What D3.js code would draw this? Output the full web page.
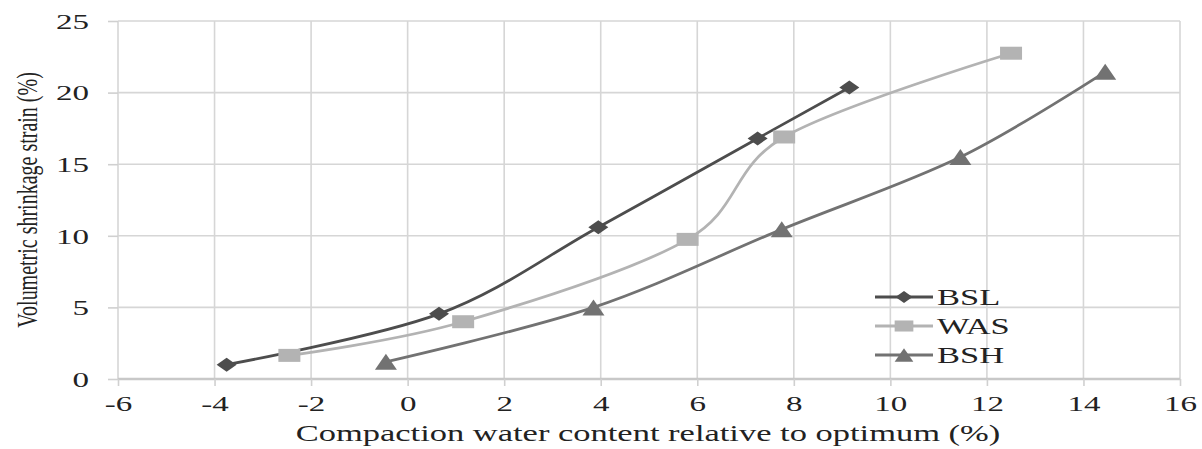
<!DOCTYPE html>
<html>
<head>
<meta charset="utf-8">
<script src="https://cdn.jsdelivr.net/npm/d3@7"></script>
<style>
    body { margin: 0; background: #fff; }
    text { font-family: "Liberation Serif", "Times New Roman", serif; fill: #222; }
</style>
</head>
<body>
<div id="chart"></div>
<script>
//Chart Data
const xTicks = [-6, -4, -2, 0, 2, 4, 6, 8, 10, 12, 14, 16];
const yTicks = [0, 5, 10, 15, 20, 25];
const seriesNames = ["BSL", "WAS", "BSH"];
const bslX = [-3.75, 0.65, 3.95, 7.25, 9.15];
const bslY = [1.0, 4.55, 10.6, 16.8, 20.35];
const wasX = [-2.45, 1.15, 5.8, 7.8, 12.5];
const wasY = [1.65, 4.0, 9.75, 16.9, 22.75];
const bshX = [-0.45, 3.85, 7.75, 11.45, 14.45];
const bshY = [1.2, 5.0, 10.45, 15.5, 21.45];

//The picture is stretched sideways, so text is too
const sx = 1.5;

renderChart();

function renderChart() {
    let width = 1202, height = 449;
    let margin = {top: 21, right: 22, bottom: 70, left: 118};

    let svg = d3.select("#chart").append("svg")
        .attr("width", width).attr("height", height);

    let x = d3.scaleLinear().domain([-6, 16]).range([margin.left, width - margin.right]);
    let y = d3.scaleLinear().domain([0, 25]).range([height - margin.bottom, margin.top]);

    //Grid Lines
    svg.append("g").selectAll("line").data(xTicks).enter().append("line")
        .attr("x1", d => x(d)).attr("x2", d => x(d))
        .attr("y1", y(25)).attr("y2", y(0))
        .attr("stroke", "#d6d6d6").attr("stroke-width", 1.6);
    svg.append("g").selectAll("line").data(yTicks).enter().append("line")
        .attr("x1", x(-6)).attr("x2", x(16))
        .attr("y1", d => y(d)).attr("y2", d => y(d))
        .attr("stroke", d => d === 0 ? "#c8c8c8" : "#d6d6d6")
        .attr("stroke-width", d => d === 0 ? 2.4 : 1.6);

    //Axes
    let xAxis = d3.axisBottom(x).tickValues(xTicks).tickSize(7).tickFormat(d => String(d));
    let yAxis = d3.axisLeft(y).tickValues(yTicks).tickSize(10).tickFormat(d => String(d));

    let gx = svg.append("g").attr("transform", "translate(0," + y(0) + ")").call(xAxis);
    let gy = svg.append("g").attr("transform", "translate(" + x(-6) + ",0)").call(yAxis);
    [gx, gy].forEach(g => {
        g.select(".domain").remove();
        g.selectAll(".tick line").attr("stroke", "#d0d0d0").attr("stroke-width", 1.6);
        g.selectAll("text").attr("font-size", 22).attr("fill", "#222")
            .style("font-family", "Liberation Serif");
    });
    gx.selectAll("text").attr("x", 0).attr("y", 0).attr("dy", null)
        .attr("transform", "translate(0,32) scale(" + sx + ",1)");
    gy.selectAll("text").attr("x", 0).attr("dy", "0.33em")
        .attr("transform", "translate(-29,0) scale(" + sx + ",1)");

    //Axis Titles
    svg.append("text")
        .attr("transform", "translate(648,441) scale(" + sx + ",1)")
        .attr("text-anchor", "middle").attr("font-size", 23)
        .text("Compaction water content relative to optimum (%)");
    svg.append("text")
        .attr("transform", "translate(37,200) rotate(-90) scale(1," + sx + ")")
        .attr("text-anchor", "middle").attr("font-size", 20)
        .text("Volumetric shrinkage strain (%)");

    //Series
    let series = [
        {name: seriesNames[0], xs: bslX, ys: bslY, color: "#4d4d4d", shape: "diamond"},
        {name: seriesNames[1], xs: wasX, ys: wasY, color: "#b3b3b3", shape: "square"},
        {name: seriesNames[2], xs: bshX, ys: bshY, color: "#727272", shape: "triangle"}
    ];

    let line = d3.line().x(d => x(d[0])).y(d => y(d[1])).curve(d3.curveCardinal.tension(0));

    series.forEach(s => {
        let pts = s.xs.map((v, i) => [v, s.ys[i]]);
        svg.append("path").datum(pts)
            .attr("d", line).attr("fill", "none")
            .attr("stroke", s.color).attr("stroke-width", 2.8);
        svg.append("g").selectAll("path").data(pts).enter().append("path")
            .attr("transform", d => "translate(" + x(d[0]) + "," + y(d[1]) + ")")
            .attr("d", markerPath(s.shape, 1))
            .attr("fill", s.color);
    });

    //Legend
    let legend = svg.append("g").attr("transform", "translate(875,297)");
    series.forEach((s, i) => {
        let g = legend.append("g").attr("transform", "translate(0," + (i * 29) + ")");
        g.append("line").attr("x1", 0).attr("x2", 58)
            .attr("stroke", s.color).attr("stroke-width", 2.8);
        g.append("path").attr("transform", "translate(29,0)")
            .attr("d", markerPath(s.shape, 0.85)).attr("fill", s.color);
        g.append("text").attr("transform", "translate(62,0) scale(" + sx + ",1)")
            .attr("dy", "0.35em").attr("font-size", 23).text(s.name);
    });
}

function markerPath(shape, k) {
    if (shape === "diamond") {
        let w = 10 * k, h = 7 * k;
        return "M" + (-w) + ",0L0," + (-h) + "L" + w + ",0L0," + h + "Z";
    }
    if (shape === "square") {
        let w = 11 * k, h = 6.5 * k;
        return "M" + (-w) + "," + (-h) + "H" + w + "V" + h + "H" + (-w) + "Z";
    }
    let w = 11 * k, h = 8 * k;
    return "M" + (-w) + "," + h + "L0," + (-h) + "L" + w + "," + h + "Z";
}
</script>
</body>
</html>
